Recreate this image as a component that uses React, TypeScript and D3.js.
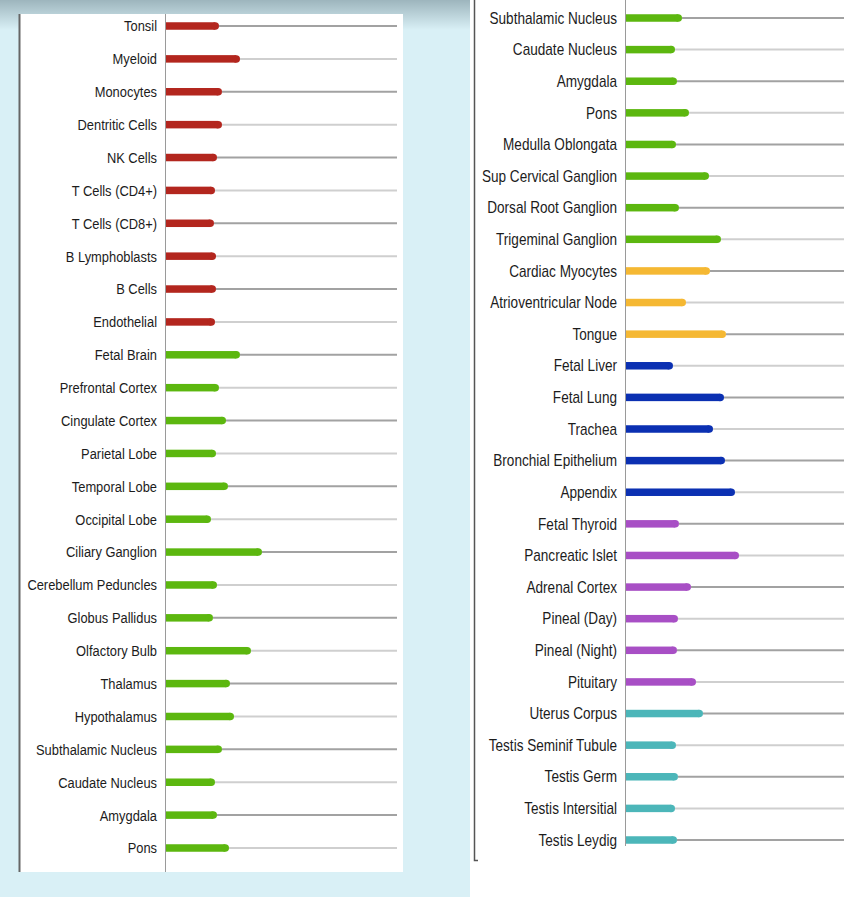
import React from "react";
import * as d3 from "d3";

const tissues = [
  "Tonsil", "Myeloid", "Monocytes", "Dentritic Cells", "NK Cells", "T Cells (CD4+)", "T Cells (CD8+)",
  "B Lymphoblasts", "B Cells", "Endothelial", "Fetal Brain", "Prefrontal Cortex", "Cingulate Cortex",
  "Parietal Lobe", "Temporal Lobe", "Occipital Lobe", "Ciliary Ganglion", "Cerebellum Peduncles",
  "Globus Pallidus", "Olfactory Bulb", "Thalamus", "Hypothalamus", "Subthalamic Nucleus",
  "Caudate Nucleus", "Amygdala", "Pons", "Medulla Oblongata", "Sup Cervical Ganglion",
  "Dorsal Root Ganglion", "Trigeminal Ganglion", "Cardiac Myocytes", "Atrioventricular Node",
  "Tongue", "Fetal Liver", "Fetal Lung", "Trachea", "Bronchial Epithelium", "Appendix",
  "Fetal Thyroid", "Pancreatic Islet", "Adrenal Cortex", "Pineal (Day)", "Pineal (Night)",
  "Pituitary", "Uterus Corpus", "Testis Seminif Tubule", "Testis Germ", "Testis Intersitial",
  "Testis Leydig",
];

const groups = [
  "immune", "immune", "immune", "immune", "immune", "immune", "immune", "immune", "immune", "immune",
  "nervous", "nervous", "nervous", "nervous", "nervous", "nervous", "nervous", "nervous", "nervous",
  "nervous", "nervous", "nervous", "nervous", "nervous", "nervous", "nervous", "nervous", "nervous",
  "nervous", "nervous", "muscle", "muscle", "muscle", "airway", "airway", "airway", "airway", "airway",
  "endocrine", "endocrine", "endocrine", "endocrine", "endocrine", "endocrine",
  "reproductive", "reproductive", "reproductive", "reproductive", "reproductive",
];

const expression = [
  53, 74, 56, 56, 51, 49, 48, 50, 50, 49,
  74, 53, 60, 50, 62, 45, 96, 51, 47, 85, 64, 68, 56, 49, 51, 63, 50, 83, 53, 95,
  84, 60, 100,
  47, 98, 87, 99, 109,
  53, 113, 65, 52, 51, 70,
  77, 50, 52, 49, 51,
];

const groupNames = ["immune", "nervous", "muscle", "airway", "endocrine", "reproductive"];
const groupColors = ["#b3261e", "#5cb70f", "#f5b833", "#0b30b2", "#a84fc5", "#4cb6b9"];

const leftRange = [0, 26];
const rightRange = [22, 49];
const axisMax = 231;

type Row = { name: string; value: number; group: string; idx: number };

const rows: Row[] = tissues.map((name, i) => ({ name, value: expression[i], group: groups[i], idx: i }));

const color = d3.scaleOrdinal<string, string>().domain(groupNames).range(groupColors);

function Panel({ data, axisX, yTop, yBottom, lineTop, lineBottom, labelX, fontSize }: {
  data: Row[]; axisX: number; yTop: number; yBottom: number; lineTop: number; lineBottom: number; labelX: number; fontSize: number;
}) {
  const x = d3.scaleLinear().domain([0, axisMax]).range([axisX + 1, axisX + 1 + axisMax]);
  const y = d3.scalePoint<string>().domain(data.map((d) => d.name)).range([yTop, yBottom]);
  const h = 7.5;
  return (
    <g>
      {data.map((d, i) => {
        const cy = y(d.name)!;
        const xe = x(d.value);
        return (
          <g key={d.name + i}>
            <line x1={xe} x2={x(axisMax)} y1={cy} y2={cy}
              stroke={i % 2 === 0 ? "#a2a2a2" : "#cfcfcf"} strokeWidth={2} />
            <rect x={x(0)} y={cy - h / 2} width={xe - x(0) - h / 2} height={h} fill={color(d.group)} />
            <circle cx={xe - h / 2} cy={cy} r={h / 2} fill={color(d.group)} />
            <text transform={`translate(${labelX},${cy}) scale(0.86,1)`} dy="0.36em" textAnchor="end"
              fontFamily="'Liberation Sans', Arial, sans-serif"
              fontSize={fontSize} fill="#1c1c1c">{d.name}</text>
          </g>
        );
      })}
      <line x1={axisX + 0.5} x2={axisX + 0.5} y1={lineTop} y2={lineBottom} stroke="#9a9a9a" strokeWidth={1} />
    </g>
  );
}

export default function App() {
  const left = rows.slice(leftRange[0], leftRange[1]);
  const right = rows.slice(rightRange[0], rightRange[1]);
  return (
    <svg width={844} height={897} style={{ position: "absolute", left: 0, top: 0, background: "#fff" }}>
      <defs>
        <linearGradient id="topfade" x1="0" y1="0" x2="0" y2="1">
          <stop offset="0" stopColor="#9db5bd" />
          <stop offset="1" stopColor="#d9f0f6" />
        </linearGradient>
      </defs>
      <rect x={0} y={0} width={470} height={897} fill="#d9f0f6" />
      <rect x={0} y={0} width={470} height={30} fill="url(#topfade)" />
      <rect x={20} y={14} width={383} height={858} fill="#ffffff" />
      <line x1={19.5} x2={19.5} y1={14} y2={872} stroke="#666" strokeWidth={2} />
      <Panel data={left} axisX={165} yTop={26} yBottom={848} lineTop={14} lineBottom={872} labelX={157} fontSize={15} />
      <rect x={470} y={0} width={374} height={897} fill="#ffffff" />
      <path d="M474.5,0 V860.5 H478" fill="none" stroke="#555" strokeWidth={1.5} />
      <Panel data={right} axisX={625} yTop={18} yBottom={840} lineTop={0} lineBottom={846} labelX={617} fontSize={15.8} />
    </svg>
  );
}
